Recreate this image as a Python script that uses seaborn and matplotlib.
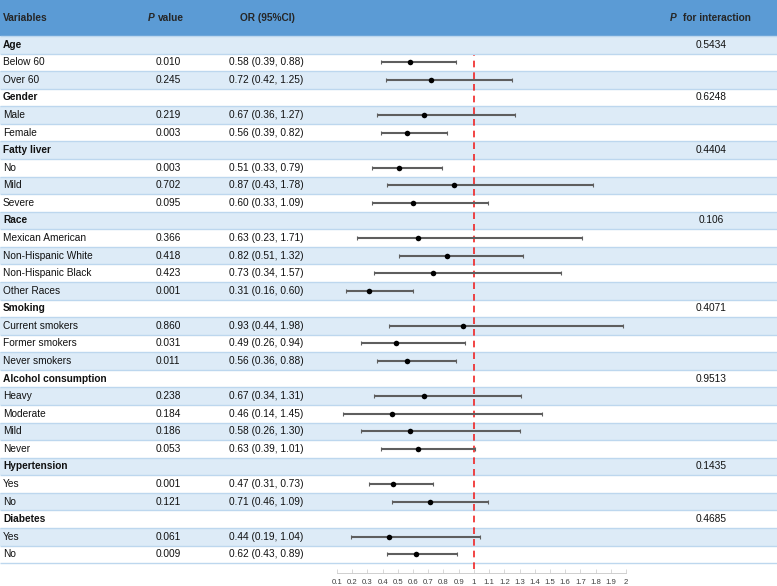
"""Subgroup forest plot: OR (95% CI) by patient characteristics."""

import matplotlib

matplotlib.use("Agg")
import matplotlib.pyplot as plt
import pandas as pd
import seaborn as sns

# --- data ------------------------------------------------------------------
GROUPS = ["Age", "Gender", "Fatty liver", "Race", "Smoking",
          "Alcohol consumption", "Hypertension", "Diabetes"]
P_INTERACTION = ["0.5434", "0.6248", "0.4404", "0.106", "0.4071",
                 "0.9513", "0.1435", "0.4685"]
GROUP_SIZES = [2, 2, 3, 4, 3, 4, 2, 2]

SUBGROUPS = ["Below 60", "Over 60",
             "Male", "Female",
             "No", "Mild", "Severe",
             "Mexican American", "Non-Hispanic White", "Non-Hispanic Black", "Other Races",
             "Current smokers", "Former smokers", "Never smokers",
             "Heavy", "Moderate", "Mild", "Never",
             "Yes", "No",
             "Yes", "No"]
P_VALUES = ["0.010", "0.245",
            "0.219", "0.003",
            "0.003", "0.702", "0.095",
            "0.366", "0.418", "0.423", "0.001",
            "0.860", "0.031", "0.011",
            "0.238", "0.184", "0.186", "0.053",
            "0.001", "0.121",
            "0.061", "0.009"]
OR_EST = [0.58, 0.72, 0.67, 0.56, 0.51, 0.87, 0.60, 0.63, 0.82, 0.73, 0.31,
          0.93, 0.49, 0.56, 0.67, 0.46, 0.58, 0.63, 0.47, 0.71, 0.44, 0.62]
CI_LOW = [0.39, 0.42, 0.36, 0.39, 0.33, 0.43, 0.33, 0.23, 0.51, 0.34, 0.16,
          0.44, 0.26, 0.36, 0.34, 0.14, 0.26, 0.39, 0.31, 0.46, 0.19, 0.43]
CI_HIGH = [0.88, 1.25, 1.27, 0.82, 0.79, 1.78, 1.09, 1.71, 1.32, 1.57, 0.60,
           1.98, 0.94, 0.88, 1.31, 1.45, 1.30, 1.01, 0.73, 1.09, 1.04, 0.89]

X_TICKS = [round(0.1 * k, 1) for k in range(1, 21)]
X_TICK_LABELS = ["1" if t == 1 else "2" if t == 2 else f"{t:g}" for t in X_TICKS]

# --- layout (pixels of a 777x586 canvas) ------------------------------------
W, H = 777, 586
HEADER_PX = 36
ROW_PX = 17.57
AXIS_PX = 573            # y of the forest x-axis line
FOREST_X0, FOREST_X1 = 337, 626

HEADER_BLUE = "#5b9bd5"
ROW_BLUE = "#ddebf7"
LINE_BLUE = "#bdd7ee"
FS = 7.3


def main() -> None:
    sns.set_theme(style="white")
    plt.rcParams["font.family"] = ["Liberation Sans", "DejaVu Sans"]

    # build one frame of table rows
    rows = []
    k = 0
    for g, pint, n in zip(GROUPS, P_INTERACTION, GROUP_SIZES):
        rows.append(dict(label=g, header=True, p="", ortxt="", pint=pint,
                         est=None, lo=None, hi=None))
        for _ in range(n):
            rows.append(dict(label=SUBGROUPS[k], header=False, p=P_VALUES[k],
                             ortxt=f"{OR_EST[k]:.2f} ({CI_LOW[k]:.2f}, {CI_HIGH[k]:.2f})",
                             pint="", est=OR_EST[k], lo=CI_LOW[k], hi=CI_HIGH[k]))
            k += 1
    df = pd.DataFrame(rows)
    df["y"] = df.index + 0.5
    n_rows = len(df)

    fig = plt.figure(figsize=(W / 100, H / 100), dpi=100)

    # --- table background + text ------------------------------------------
    tab = fig.add_axes([0, 0, 1, 1])
    tab.set_xlim(0, W)
    top = -HEADER_PX / ROW_PX
    tab.set_ylim((H - HEADER_PX) / ROW_PX, top)
    tab.axis("off")

    tab.axhspan(top, 0, color=HEADER_BLUE, lw=0)
    for i in range(0, n_rows, 2):
        tab.axhspan(i, i + 1, color=ROW_BLUE, lw=0)
    tab.hlines(range(n_rows + 1), 0, W, color=LINE_BLUE, lw=1.0)

    hy = top / 2
    tab.text(3, hy, "Variables", fontsize=FS, fontweight="bold", va="center")
    tab.text(148, hy, "P", fontsize=FS, fontweight="bold", style="italic", va="center")
    tab.text(158, hy, "value", fontsize=FS, fontweight="bold", va="center")
    tab.text(267, hy, "OR (95%CI)", fontsize=FS, fontweight="bold", va="center", ha="center")
    tab.text(670, hy, "P", fontsize=FS, fontweight="bold", style="italic", va="center")
    tab.text(683, hy, "for interaction", fontsize=FS, fontweight="bold", va="center")

    for _, r in df.iterrows():
        tab.text(3, r.y, r.label, fontsize=FS, va="center",
                 fontweight="bold" if r.header else "normal", color="#111111")
        if r.p:
            tab.text(168, r.y, r.p, fontsize=FS, va="center", ha="center", color="#111111")
            tab.text(229, r.y, r.ortxt, fontsize=FS, va="center", color="#111111")
        if r.pint:
            tab.text(711, r.y, r.pint, fontsize=FS, va="center", ha="center", color="#111111")

    # --- forest panel --------------------------------------------------------
    ax = fig.add_axes([FOREST_X0 / W, (H - AXIS_PX) / H,
                       (FOREST_X1 - FOREST_X0) / W, (AXIS_PX - HEADER_PX) / H])
    ax.set_facecolor("none")
    ax.set_xlim(0.1, 2.0)
    ax.set_ylim((AXIS_PX - HEADER_PX) / ROW_PX, 0)

    est = df.dropna(subset=["est"]).astype({"est": float, "lo": float, "hi": float})
    ax.errorbar(est["est"], est["y"],
                xerr=[est["est"] - est["lo"], est["hi"] - est["est"]],
                fmt="none", ecolor="#5e5e5e", elinewidth=1.5, capsize=1.6,
                capthick=0.8, zorder=2)
    sns.scatterplot(data=est, x="est", y="y", color="black", s=16,
                    edgecolor="black", linewidth=0, ax=ax, zorder=3, legend=False)

    red_top = (55 - HEADER_PX) / (AXIS_PX - HEADER_PX)
    ax.axvline(1.0, ymin=(AXIS_PX - 569) / (AXIS_PX - HEADER_PX), ymax=1 - red_top,
               color="#f02424", lw=1.2, ls=(0, (4, 3)), zorder=1)

    for side in ["top", "right", "left"]:
        ax.spines[side].set_visible(False)
    ax.spines["bottom"].set_color("#c8c8c8")
    ax.spines["bottom"].set_linewidth(0.6)
    ax.set_xticks(X_TICKS)
    ax.set_xticklabels(X_TICK_LABELS)
    ax.tick_params(axis="x", direction="in", length=3, width=0.5, color="#c8c8c8",
                   labelsize=5.6, labelcolor="#404040", pad=4, bottom=True)
    ax.set_yticks([])
    ax.set_xlabel("")
    ax.set_ylabel("")

    fig.savefig("out.png", dpi=100)
    plt.close(fig)


if __name__ == "__main__":
    main()
